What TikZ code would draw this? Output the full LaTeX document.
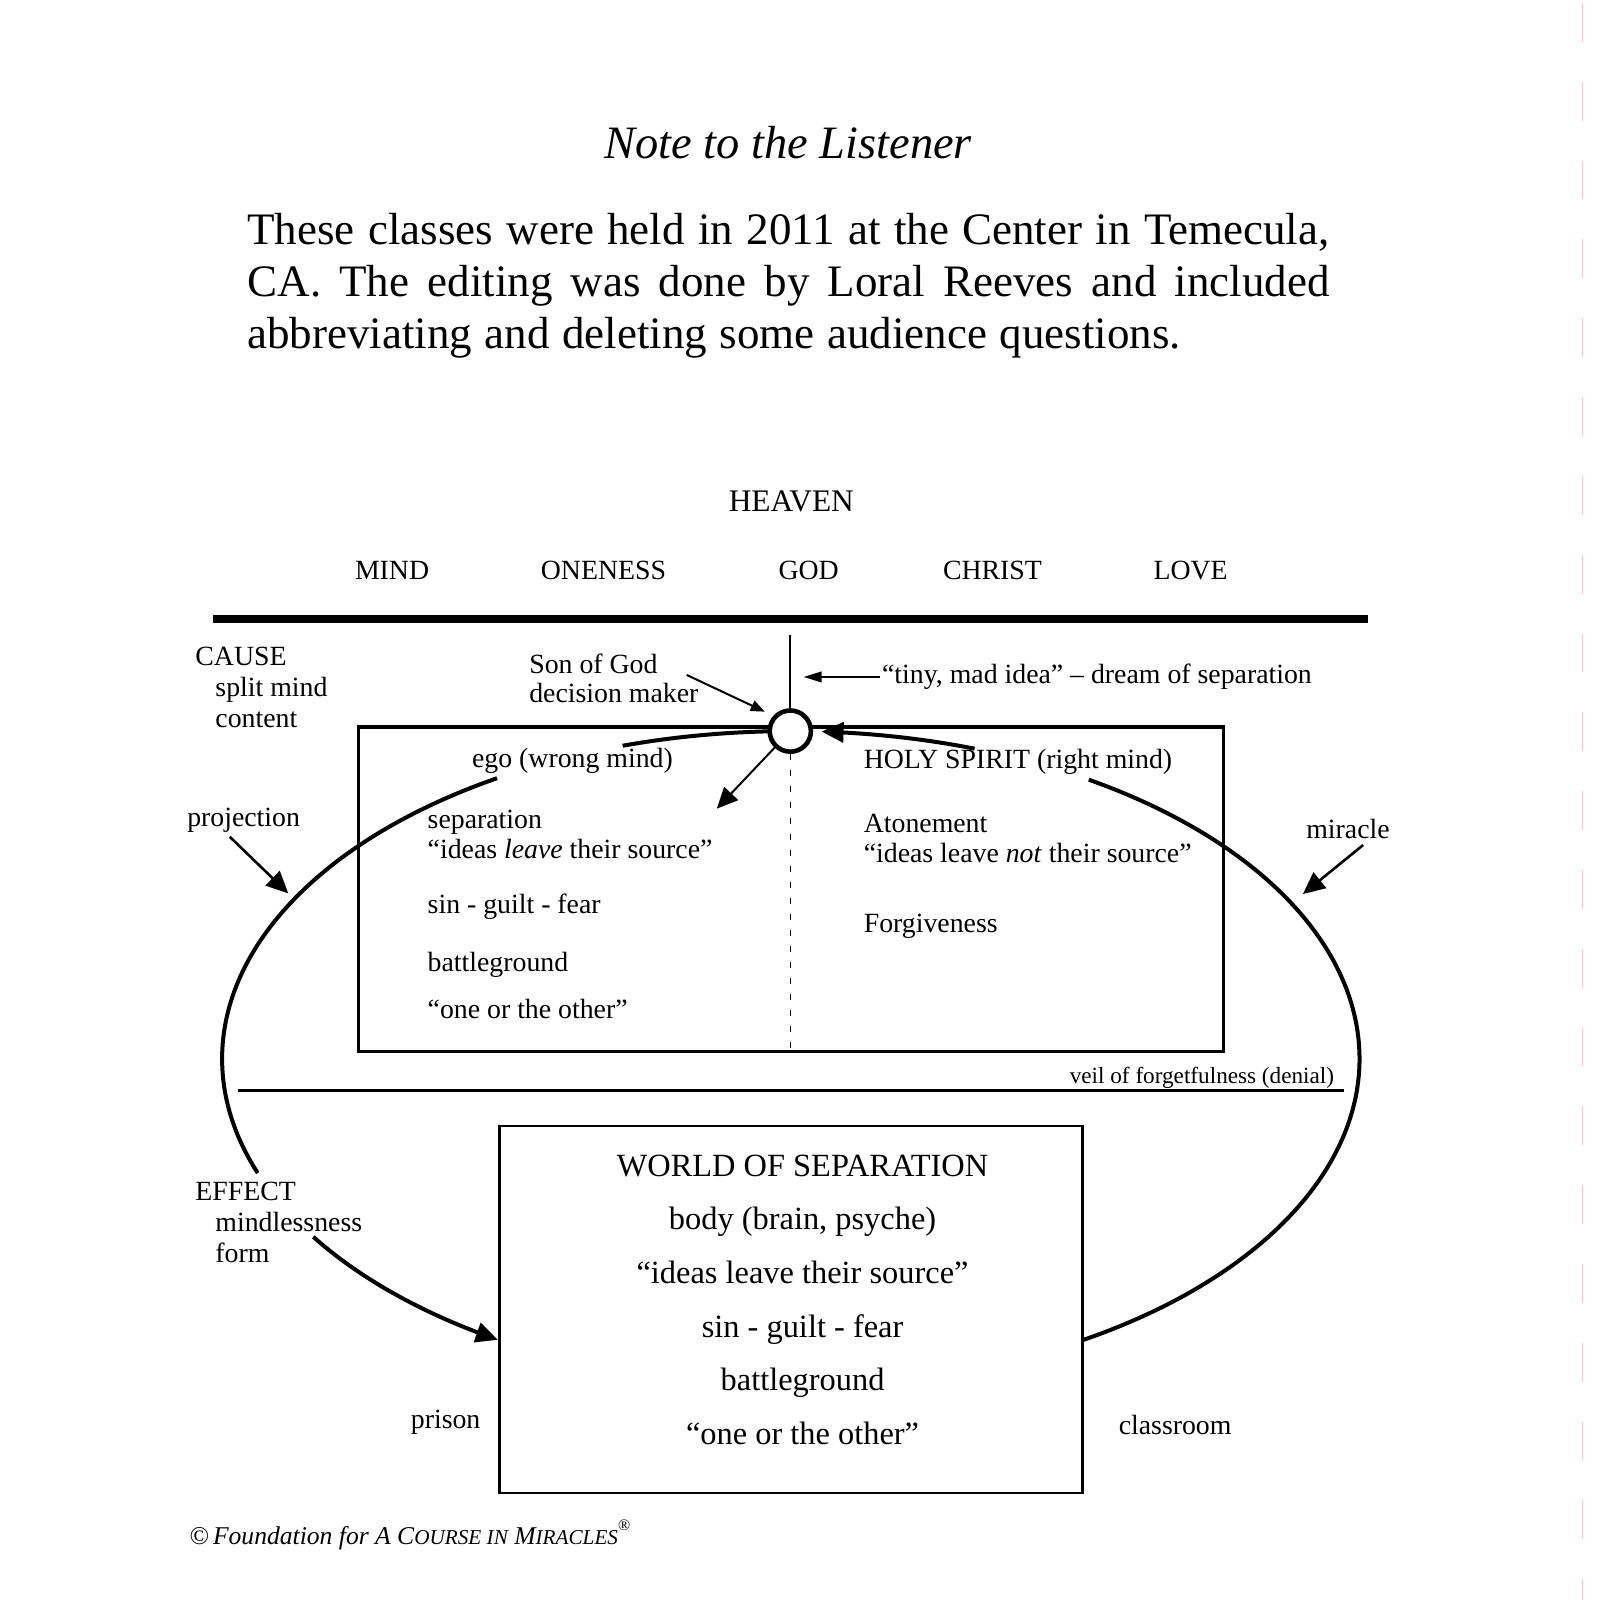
\documentclass[tikz,border=0pt]{standalone}
\usepackage{fontspec}
\setmainfont{Liberation Serif}
\usetikzlibrary{arrows.meta}
\newcommand{\myfs}[1]{\fontsize{#1}{#1}\selectfont}
\definecolor{scanpink}{RGB}{244,200,206}
\begin{document}
\begin{tikzpicture}[x=0.5105pt,y=-0.5105pt,
  txt/.style={inner sep=0pt, anchor=base west, font=\myfs{13.9pt}},
  ctr/.style={inner sep=0pt, anchor=base, font=\myfs{16.2pt}},
  hdr/.style={inner sep=0pt, anchor=base, font=\myfs{13.9pt}},
  body/.style={inner sep=0pt, anchor=base west, font=\myfs{22.5pt}},
  ell/.style={line width=2pt},
  bigtip/.style={-{Triangle[length=11pt,width=10pt]}},
]
\useasboundingbox (0,0) rectangle (1567,1567);
\fill[white] (0,0) rectangle (1567,1567);
\draw[scanpink, line width=0.6pt, dash pattern=on 19.4pt off 20pt] (1550,3) -- (1550,1567);

% heading and paragraph
\node[inner sep=0pt, anchor=base, font=\myfs{23.2pt}\itshape] (title) at (772,155) {Note to the Listener};
\node[body] (p1) at (242,239) {\makebox[541pt][s]{These classes were held in 2011 at the Center in Temecula,}};
\node[body] (p2) at (242,290) {\makebox[541pt][s]{CA. The editing was done by Loral Reeves and included}};
\node[body] (p3) at (242,341) {\makebox[466.6pt][s]{abbreviating and deleting some audience questions.}};

% heaven
\node[inner sep=0pt, anchor=base, font=\myfs{15.7pt}] (heaven) at (775,501) {HEAVEN};
\node[hdr] (mind) at (384,568) {MIND};
\node[hdr] (oneness) at (591,568) {ONENESS};
\node[hdr] (god) at (792,568) {GOD};
\node[hdr] (christ) at (972,568) {CHRIST};
\node[hdr] (love) at (1166,568) {LOVE};
\draw[line width=4pt] (209,606) -- (1340,606);

% boxes and veil
\draw[line width=1.7pt] (351,712) rectangle (1198,1030);
\draw[line width=1.7pt] (233,1068) -- (1316,1068);
\draw[line width=1.2pt] (489,1103) rectangle (1060,1462);

% ellipse segments
\draw[ell] plot[smooth, samples=30, domain=92.3:107.2] ({774.5+557*cos(\x)},{1037-321*sin(\x)});
\draw[ell, bigtip] plot[smooth, samples=30, domain=71.15:86.9] ({774.5+557*cos(\x)},{1037-321*sin(\x)});
\draw[ell] plot[smooth, samples=80, domain=121.1:200.4] ({774.5+557*cos(\x)},{1037-321*sin(\x)});
\draw[ell] plot[smooth, samples=100, domain=-59.2:58.4] ({774.5+557*cos(\x)},{1037-321*sin(\x)});
\draw[ell, bigtip] plot[smooth, samples=40, domain=212.9:239.0] ({774.5+557*cos(\x)},{1037-321*sin(\x)});

% decision maker
\node[circle, draw, line width=2.3pt, minimum size=20.6pt, inner sep=0pt, fill=white] (dm) at (774,716) {};
\coordinate (vtop) at (774,622);
\coordinate (vbot) at (774,1027);
\draw[line width=1pt] (vtop) -- (dm);
\draw[line width=0.8pt, dash pattern=on 3pt off 5pt] (dm) -- (vbot);

% labels
\node[txt] (cause) at (191,652) {CAUSE};
\node[txt] (split) at (210.6,682) {split mind};
\node[txt] (content) at (210.6,712) {content};
\node[txt] (son) at (518,659.5) {Son of God};
\node[txt] (dec) at (518,688) {decision maker};
\node[txt] (tiny) at (863.5,669.3) {“tiny, mad idea” – dream of separation};
\node[txt] (ego) at (462,752) {ego (wrong mind)};
\node[txt] (hs) at (845.6,753) {HOLY SPIRIT (right mind)};
\node[txt] (sep) at (418.5,811) {separation};
\node[txt] (ideasA) at (418.5,840.5) {“ideas \textit{leave} their source”};
\node[txt] (sinA) at (418.5,895) {sin - guilt - fear};
\node[txt] (battleA) at (418.5,951.5) {battleground};
\node[txt] (oneA) at (418.5,997) {“one or the other”};
\node[txt] (aton) at (845.6,815) {Atonement};
\node[txt] (ideasB) at (845.6,845) {“ideas leave \textit{not} their source”};
\node[txt] (forg) at (845.6,913) {Forgiveness};
\node[txt] (proj) at (183,809) {projection};
\node[txt] (mir) at (1279,821.5) {miracle};
\node[txt, font=\myfs{11.6pt}] (veil) at (1047.3,1061.5) {veil of forgetfulness (denial)};
\node[txt] (effect) at (191,1176) {EFFECT};
\node[txt] (mindless) at (210.6,1206.5) {mindlessness};
\node[txt] (form) at (210.6,1236.5) {form};
\node[ctr] (world) at (786,1152) {WORLD OF SEPARATION};
\node[ctr] (bodyl) at (786,1204) {body (brain, psyche)};
\node[ctr] (ideasC) at (786,1257) {“ideas leave their source”};
\node[ctr] (sinC) at (786,1310) {sin - guilt - fear};
\node[ctr] (battleC) at (786,1362) {battleground};
\node[ctr] (oneC) at (786,1415) {“one or the other”};
\node[txt] (prison) at (402,1399) {prison};
\node[txt] (class) at (1095.3,1404.5) {classroom};
\node[txt, font=\myfs{12.8pt}\itshape] (foot) at (185,1513) {©\,Foundation for A C{\myfs{10.6pt}OURSE IN} M{\myfs{10.6pt}IRACLES}\raisebox{1.2ex}{\myfs{8pt}\upshape ®}};

% arrows
\coordinate (sogS) at (672.5,661);
\coordinate (sogT) at (749,697);
\draw[line width=1pt, -{Triangle[length=7pt,width=5.5pt]}] (sogS) -- (sogT);
\coordinate (tinyS) at (862,663);
\coordinate (tinyT) at (787,663);
\draw[line width=1pt, -{Triangle[length=9pt,width=5.3pt]}] (tinyS) -- (tinyT);
\coordinate (dmT) at (702,792);
\draw[line width=1pt, -{Triangle[length=10.5pt,width=9.5pt]}] (dm) -- (dmT);
\coordinate (projS) at (225,819.5);
\coordinate (projT) at (282.4,875);
\draw[line width=1.3pt, bigtip] (projS) -- (projT);
\coordinate (mirS) at (1335,827.6);
\coordinate (mirT) at (1276,875.6);
\draw[line width=1.3pt, bigtip] (mirS) -- (mirT);
\end{tikzpicture}
\end{document}
